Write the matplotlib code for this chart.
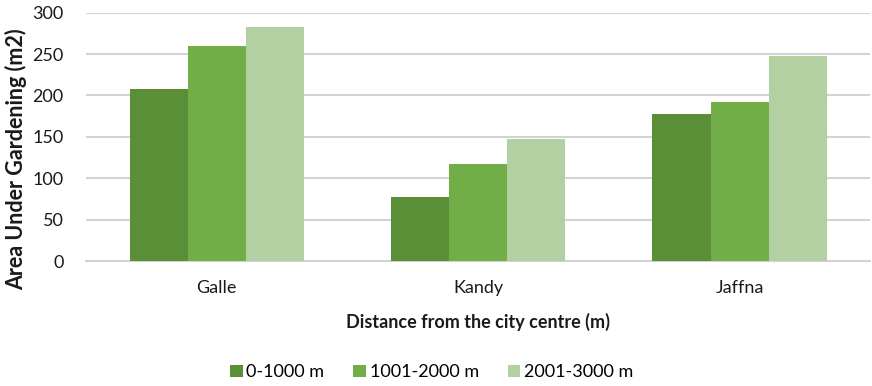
import matplotlib
matplotlib.use("Agg")
import matplotlib.pyplot as plt
import numpy as np

categories = ["Galle", "Kandy", "Jaffna"]
series_names = ["0-1000 m", "1001-2000 m", "2001-3000 m"]
s1 = [208, 77, 178]
s2 = [260, 117, 192]
s3 = [283, 147, 248]
colors = ["#5b8f37", "#71ae47", "#b3d0a3"]

plt.rcParams['font.family'] = ['Lato', 'DejaVu Sans']

fig = plt.figure(figsize=(8.72, 3.86), dpi=100)
ax = fig.add_axes([0.0986, 0.3238, 0.8994, 0.6432])

x = np.arange(len(categories))
w = 0.222
for i, (vals, name, c) in enumerate(zip([s1, s2, s3], series_names, colors)):
    ax.bar(x + (i - 1) * w, vals, width=w, color=c, label=name, zorder=3)

ax.set_xlim(-0.5, 2.5)
ax.set_ylim(0, 300)
ax.set_yticks(np.arange(0, 301, 50))
ax.set_xticks(x)
ax.set_xticklabels(categories)
ax.yaxis.grid(True, color="#d3d3d3", linewidth=1.5, zorder=0)
for s in ["top", "right", "left"]:
    ax.spines[s].set_visible(False)
ax.spines["bottom"].set_color("#d3d3d3")
ax.spines["bottom"].set_linewidth(1.5)
ax.tick_params(axis="both", length=0, labelsize=13, colors="#1a1a1a")
ax.tick_params(axis="x", pad=14)
ax.tick_params(axis="y", pad=16)

ax.set_ylabel("Area Under Gardening (m2)", fontsize=15.5, fontweight="bold", color="#1a1a1a")
ax.set_xlabel("Distance from the city centre (m)", fontsize=13, fontweight="bold", color="#1a1a1a", labelpad=12)
ax.yaxis.set_label_coords(-0.075, 0.41)

leg = fig.legend(loc="center", bbox_to_anchor=(0.495, 0.035), ncol=3, frameon=False,
                 fontsize=13, handlelength=0.7, handleheight=0.7, handletextpad=0.2,
                 columnspacing=1.6)
fig.savefig("out.png", dpi=100)
